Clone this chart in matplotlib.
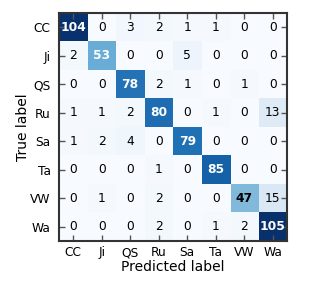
import numpy as np
import matplotlib
matplotlib.use('Agg')
import matplotlib.pyplot as plt

labels = ['CC', 'Ji', 'QS', 'Ru', 'Sa', 'Ta', 'VW', 'Wa']
cm = np.array([
    [104, 0, 3, 2, 1, 1, 0, 0],
    [2, 53, 0, 0, 5, 0, 0, 0],
    [0, 0, 78, 2, 1, 0, 1, 0],
    [1, 1, 2, 80, 0, 1, 0, 13],
    [1, 2, 4, 0, 79, 0, 0, 0],
    [0, 0, 0, 1, 0, 85, 0, 0],
    [0, 1, 0, 2, 0, 0, 47, 15],
    [0, 0, 0, 2, 0, 1, 2, 105],
])

fig = plt.figure(figsize=(3.27, 2.97), dpi=100, facecolor='white')
ax = fig.add_axes([0.180, 0.189, 0.698, 0.767])
ax.imshow(cm, interpolation='nearest', cmap=plt.cm.Blues, aspect='auto')

thresh = cm.max() / 2.
for i in range(cm.shape[0]):
    for j in range(cm.shape[1]):
        ax.text(j, i, str(cm[i, j]), ha='center', va='center', fontsize=8.8,
                fontweight='bold' if i == j else 'normal',
                color='white' if cm[i, j] > thresh else 'black')

ax.set_xticks(np.arange(len(labels)))
ax.set_yticks(np.arange(len(labels)))
ax.set_xticklabels(labels, fontsize=8.8)
ax.set_yticklabels(labels, fontsize=8.8)
ax.tick_params(direction='in', length=4, width=1, color='#555555', top=True, right=True)
ax.tick_params(axis='x', pad=4)
ax.tick_params(axis='y', pad=6)
ax.set_xlim(-0.5, 7.5)
ax.set_ylim(7.5, -0.5)
ax.set_xlabel('Predicted label', fontsize=10)
ax.set_ylabel('True label', fontsize=10)
ax.xaxis.set_label_coords(0.5, -0.086)
ax.yaxis.set_label_coords(-0.125, 0.5)
for s in ax.spines.values():
    s.set_linewidth(1.5)
    s.set_color('#333333')

fig.savefig('out.png', dpi=100, facecolor='white')
